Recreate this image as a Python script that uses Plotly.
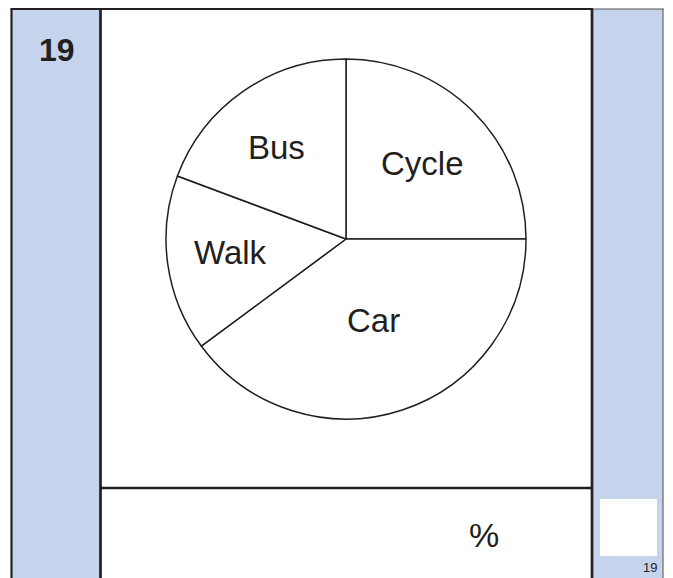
import plotly.graph_objects as go

# Data (slice sizes in degrees, clockwise from 12 o'clock)
categories = ["Cycle", "Car", "Walk", "Bus"]
angles_deg = [90, 143.5, 57, 69.5]
question_number = "19"
answer_unit = "%"

W, H = 673, 578
INK = "#231f20"
BLUE = "#c5d4ec"
FONT = "Liberation Sans, Arial, sans-serif"


def px(x):
    return x / W


def py(y):
    return 1 - y / H


# pie geometry (pixels)
cx, cy, r = 346, 239, 180

fig = go.Figure()
fig.add_trace(go.Pie(
    labels=categories,
    values=angles_deg,
    sort=False,
    direction="clockwise",
    rotation=0,
    textinfo="none",
    hoverinfo="skip",
    showlegend=False,
    marker=dict(colors=["white"] * len(categories), line=dict(color=INK, width=1.5)),
    domain=dict(x=[px(cx - r), px(cx + r)], y=[py(cy + r), py(cy - r)]),
))

shapes = []
# blue side columns
shapes.append(dict(type="rect", xref="paper", yref="paper", x0=px(11.5), x1=px(100.5),
                   y0=py(H + 5), y1=py(9), fillcolor=BLUE, line=dict(width=0), layer="below"))
shapes.append(dict(type="rect", xref="paper", yref="paper", x0=px(592), x1=px(663),
                   y0=py(H + 5), y1=py(9), fillcolor=BLUE, line=dict(width=0), layer="below"))
# white answer box
shapes.append(dict(type="rect", xref="paper", yref="paper", x0=px(600), x1=px(657),
                   y0=py(556), y1=py(499), fillcolor="white", line=dict(width=0), layer="below"))


def line(x0, y0, x1, y1, w=2.5, c=INK):
    shapes.append(dict(type="line", xref="paper", yref="paper", x0=px(x0), x1=px(x1),
                       y0=py(y0), y1=py(y1), line=dict(color=c, width=w)))


line(10.5, 9, 593, 9, 2.2)            # top border
line(593, 9, 664, 9, 1.2, "#555555")  # top of right column
line(11.5, 9, 11.5, H + 5, 2.2)       # left border
line(100.5, 9, 100.5, H + 5, 2.7)     # inner left border
line(592, 9, 592, H + 5, 2.7)         # inner right border
line(663, 9, 663, H + 5, 1.2, "#666666")  # outer right border
line(100.5, 488, 592, 488, 2.7)       # separator above answer line

# label positions (pixels) for each category
label_pos = {"Cycle": (422, 163), "Car": (373, 320), "Walk": (230, 252), "Bus": (276, 148)}

annotations = []
for name in categories:
    x, y = label_pos[name]
    annotations.append(dict(x=px(x), y=py(y), xref="paper", yref="paper", text=name,
                            showarrow=False, xanchor="center", yanchor="middle",
                            font=dict(family=FONT, size=33, color=INK)))

annotations.append(dict(x=px(57), y=py(50), xref="paper", yref="paper",
                        text="<b>" + question_number + "</b>", showarrow=False,
                        xanchor="center", yanchor="middle",
                        font=dict(family=FONT, size=32, color=INK)))
annotations.append(dict(x=px(484), y=py(535), xref="paper", yref="paper",
                        text=answer_unit, showarrow=False, xanchor="center", yanchor="middle",
                        font=dict(family=FONT, size=34, color=INK)))
annotations.append(dict(x=px(650), y=py(567), xref="paper", yref="paper",
                        text=question_number, showarrow=False, xanchor="center", yanchor="middle",
                        font=dict(family=FONT, size=13, color=INK)))

fig.update_layout(
    width=W, height=H,
    margin=dict(l=0, r=0, t=0, b=0),
    paper_bgcolor="white",
    plot_bgcolor="white",
    shapes=shapes,
    annotations=annotations,
)

fig.write_html("out.html", config={"displayModeBar": False},
               post_script="document.body.style.margin='0';")
